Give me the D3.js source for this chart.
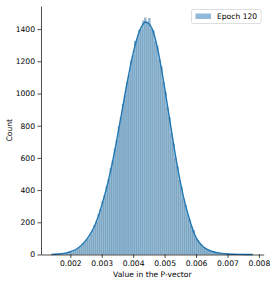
<!DOCTYPE html>
<html>
<head>
<meta charset="utf-8">
<script src="https://cdn.jsdelivr.net/npm/d3@7"></script>
<style>
  body { margin: 0; background: #fff; }
  svg text { font-family: "DejaVu Sans", sans-serif; fill: #000; }
</style>
</head>
<body>
<svg id="chart"></svg>
<script>
// Data
const dataRange = [0.00139, 0.00783];   // first bin left edge, last bin right edge
const counts = [1, 2, 2, 3, 5, 5, 8, 9, 12, 16,
    19, 25, 30, 41, 52, 66, 74, 90, 101, 127,
    148, 181, 205, 249, 281, 330, 366, 425, 466, 536,
    583, 658, 712, 797, 852, 934, 990, 1072, 1118, 1203,
    1238, 1326, 1339, 1395, 1402, 1452, 1470, 1438, 1468, 1401,
    1392, 1322, 1296, 1210, 1168, 1071, 1010, 915, 850, 752,
    688, 600, 545, 462, 415, 344, 305, 248, 215, 172,
    150, 103, 90, 72, 60, 47, 41, 32, 27, 22,
    19, 14, 11, 9, 7, 5, 4, 3, 3, 2,
    1, 1, 1, 0, 1, 0, 0, 1, 0, 1];
const kdeX = [0.0014, 0.0016, 0.0018, 0.0020, 0.0022, 0.0024, 0.0026, 0.0028, 0.0030, 0.0032,
    0.0034, 0.0036, 0.0038, 0.0040, 0.0042, 0.0044, 0.0046, 0.0048, 0.0050, 0.0052,
    0.0054, 0.0056, 0.0058, 0.0060, 0.0062, 0.0064, 0.0066, 0.0068, 0.0070, 0.0072,
    0.0074, 0.0076, 0.0078];
const kdeY = [1, 3, 7, 17, 34, 66, 115, 190, 305, 450,
    630, 842, 1059, 1251, 1387, 1444, 1403, 1257, 1037, 789,
    553, 358, 213, 105, 52, 27, 14, 7, 3, 1.5,
    0.8, 0.4, 0.2];
const xTicks = [0.002, 0.003, 0.004, 0.005, 0.006, 0.007, 0.008];
const yTicks = [0, 200, 400, 600, 800, 1000, 1200, 1400];
const seriesName = 'Epoch 120';

// Canvas
let width = 275;
let height = 284;
let margin = {left: 41, top: 6, right: 11.3, bottom: 29.5};
let fontSize = 7.6;
let blue = '#1f77b4';

let svg = d3.select('#chart')
    .attr('width', width)
    .attr('height', height);

// matplotlib style 5% margins on x
let span = dataRange[1] - dataRange[0];
let xScale = d3.scaleLinear()
    .domain([dataRange[0] - span * 0.05, dataRange[1] + span * 0.05])
    .range([margin.left, width - margin.right]);
let yScale = d3.scaleLinear()
    .domain([0, d3.max(counts) * 1.05])
    .range([height - margin.bottom, margin.top]);

let binW = span / counts.length;

// bars
svg.append('g')
    .selectAll('rect')
    .data(counts)
    .enter()
    .append('rect')
    .attr('x', (d, i) => xScale(dataRange[0] + i * binW))
    .attr('width', (d, i) => xScale(dataRange[0] + (i + 1) * binW) - xScale(dataRange[0] + i * binW))
    .attr('y', d => yScale(d))
    .attr('height', d => yScale(0) - yScale(d))
    .attr('fill', blue)
    .attr('fill-opacity', 0.5)
    .attr('stroke', '#000')
    .attr('stroke-opacity', 0.25)
    .attr('stroke-width', 0.3);

// kde line
let line = d3.line()
    .x((d, i) => xScale(kdeX[i]))
    .y(d => yScale(d))
    .curve(d3.curveMonotoneX);

svg.append('path')
    .datum(kdeY)
    .attr('d', line)
    .attr('fill', 'none')
    .attr('stroke', blue)
    .attr('stroke-width', 1.4);

// axes
let xAxis = d3.axisBottom(xScale)
    .tickValues(xTicks)
    .tickFormat(d3.format('.3f'))
    .tickSize(3.5)
    .tickPadding(2.5)
    .tickSizeOuter(0);
let yAxis = d3.axisLeft(yScale)
    .tickValues(yTicks)
    .tickFormat(d3.format('d'))
    .tickSize(3.5)
    .tickPadding(2.5)
    .tickSizeOuter(0);

let gx = svg.append('g')
    .attr('transform', 'translate(0,' + (height - margin.bottom) + ')')
    .call(xAxis);
let gy = svg.append('g')
    .attr('transform', 'translate(' + margin.left + ',0)')
    .call(yAxis);

[gx, gy].forEach(g => {
    g.selectAll('path, line').attr('stroke', '#000').attr('stroke-width', 0.7);
    g.selectAll('text')
        .style('font-size', fontSize + 'px')
        .style('font-family', '"DejaVu Sans", sans-serif')
        .attr('fill', '#000');
});

// axis labels
svg.append('text')
    .attr('x', margin.left + (width - margin.left - margin.right) / 2)
    .attr('y', 276.5)
    .attr('text-anchor', 'middle')
    .style('font-size', fontSize + 'px')
    .text('Value in the P-vector');

svg.append('text')
    .attr('transform', 'rotate(-90)')
    .attr('x', -(margin.top + (height - margin.top - margin.bottom) / 2))
    .attr('y', 12)
    .attr('text-anchor', 'middle')
    .style('font-size', fontSize + 'px')
    .text('Count');

// legend
let legend = svg.append('g').attr('transform', 'translate(191.5,9.5)');
legend.append('rect')
    .attr('width', 69.5)
    .attr('height', 14)
    .attr('rx', 1.5)
    .attr('fill', '#fff')
    .attr('fill-opacity', 0.8)
    .attr('stroke', '#d0d0d0')
    .attr('stroke-width', 0.7);
legend.append('rect')
    .attr('x', 4)
    .attr('y', 4)
    .attr('width', 15.5)
    .attr('height', 5.5)
    .attr('fill', blue)
    .attr('fill-opacity', 0.5);
legend.append('text')
    .attr('x', 25.5)
    .attr('y', 9.8)
    .style('font-size', fontSize + 'px')
    .text(seriesName);
</script>
</body>
</html>
